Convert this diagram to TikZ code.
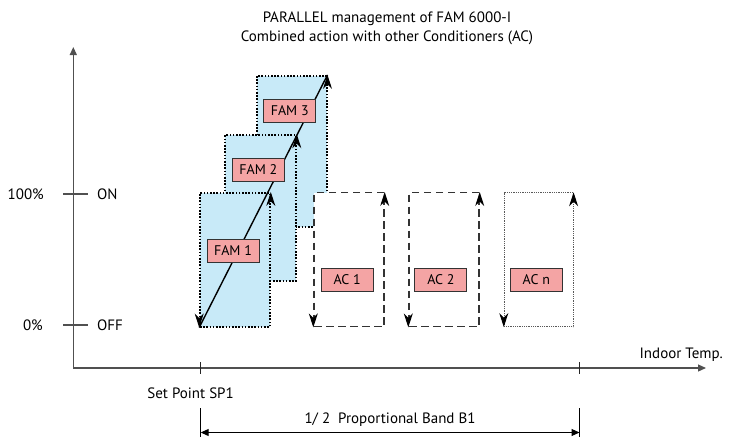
\documentclass[tikz,border=0pt]{standalone}
\usepackage{fontspec}
\setmainfont{PT Sans}
\usetikzlibrary{arrows.meta,calc,positioning}
\definecolor{fambg}{HTML}{C8EAF8}
\definecolor{tagbg}{HTML}{F4A4A4}
\definecolor{axisgray}{HTML}{505050}
\tikzset{
    fambox/.style={
    rectangle,inner sep=0pt,fill=fambg,draw=black,line width=1.6pt,dash pattern=on 1.6pt off 1.6pt
    },
    acbox/.style={
    rectangle,inner sep=0pt,fill=white,draw=black!80,line width=1.4pt,dash pattern=on 7.5pt off 4.5pt
    },
    acnbox/.style={
    rectangle,inner sep=0pt,fill=white,draw=black!65,line width=0.8pt,dash pattern=on 0.8pt off 1pt
    },
    tag/.style={
    rectangle,fill=tagbg,draw=black!80,line width=0.9pt,minimum width=52pt,minimum height=23pt,inner sep=0pt,font=\fontsize{14}{16}\selectfont
    },
    cyc/.style={
    solid,line width=1pt,-{Stealth[length=14pt,width=9pt,inset=4.5pt]}
    },
    axis/.style={
    draw=axisgray,line width=1.2pt,-{Triangle[length=8pt,width=7pt]}
    },
    tick/.style={
    draw=black!85,line width=1.2pt
    },
    txt/.style={
    inner sep=0pt,font=\fontsize{15}{19}\selectfont
    },
}
\begin{document}
\begin{tikzpicture}[x=1pt,y=-1pt]
   \useasboundingbox (0,0) rectangle (732,437);

   % axes
   \coordinate (O) at (73.3,368);
   \coordinate (ytop) at (73.3,47);
   \coordinate (xend) at (706,368);
   \draw[axis] (O) -- (ytop);
   \draw[axis] (O) -- (xend);
   \node[txt,anchor=base east] (temp) at (723,358) {Indoor Temp.};

   % y ticks
   \draw[tick,draw=axisgray] (63,194) -- (88,194);
   \draw[tick,draw=axisgray] (63,325) -- (88,325);
   \node[txt,anchor=east] (full) at (44,194) {100\%};
   \node[txt,anchor=west] (on) at (97,194) {ON};
   \node[txt,anchor=east] (zero) at (43,325) {0\%};
   \node[txt,anchor=west] (off) at (97,325) {OFF};

   % FAM units
   \node[fambox,minimum width=70pt,minimum height=151pt] (F3) at (291.7,151.2) {};
   \draw[cyc] ($(F3.north east)+(0,2)$) -- (F3.north east);
   \node[fambox,minimum width=71pt,minimum height=145.7pt] (F2) at (260.5,207.9) {};
   \draw[cyc] ($(F2.north east)+(0,2)$) -- (F2.north east);
   \node[fambox,minimum width=70pt,minimum height=134pt] (F1) at (235,259.7) {};
   \draw[cyc] ($(F1.north east)+(0,2)$) -- (F1.north east);
   \draw[cyc] ($(F1.south west)+(0,-2)$) -- (F1.south west);

   % other conditioners
   \node[acbox,minimum width=70pt,minimum height=134pt] (A1) at (349,259.7) {};
   \node[acbox,minimum width=70pt,minimum height=134pt] (A2) at (444,259.7) {};
   \node[acnbox,minimum width=69pt,minimum height=134pt] (An) at (538.7,259.7) {};
   \foreach \b in {A1,A2,An}{
     \draw[cyc] ($(\b.north east)+(0,2)$) -- (\b.north east);
     \draw[cyc] ($(\b.south west)+(0,-2)$) -- (\b.south west);
   }

   % ramp
   \draw[black,line width=1.4pt] (F1.south west) -- (F3.north east);

   \node[tag] (t1) at (233,251) {FAM 1};
   \node[tag] (t2) at (258.3,169.7) {FAM 2};
   \node[tag] (t3) at (289.7,111) {FAM 3};
   \node[tag] (c1) at (347.2,280) {AC 1};
   \node[tag] (c2) at (440.9,280) {AC 2};
   \node[tag] (cn) at (536.3,280) {AC n};

   % set point and band
   \coordinate (sp) at (200.7,368);
   \coordinate (pb) at (579.5,368);
   \draw[tick] ($(sp)+(0,-6)$) -- ($(sp)+(0,6)$);
   \draw[tick] ($(pb)+(0,-6)$) -- ($(pb)+(0,6)$);
   \node[txt,anchor=base east] (setp) at (234,398) {Set Point SP1};
   \coordinate (bl) at (200.7,408);
   \coordinate (br) at (579.5,408);
   \draw[line width=1pt] (bl) -- ++(0,29);
   \draw[line width=1pt] (br) -- ++(0,29);
   \draw[line width=1pt,{Triangle[length=8pt,width=7pt]}-{Triangle[length=8pt,width=7pt]}] ($(bl)+(0,24.5)$) -- ($(br)+(0,24.5)$);
   \node[txt,anchor=base] (band) at (390,423) {1/ 2\ \ Proportional Band B1};

   % title
   \node[txt,align=center] (title) at (387,28) {PARALLEL management of FAM 6000-I\\Combined action with other Conditioners (AC)};
\end{tikzpicture}
\end{document}
